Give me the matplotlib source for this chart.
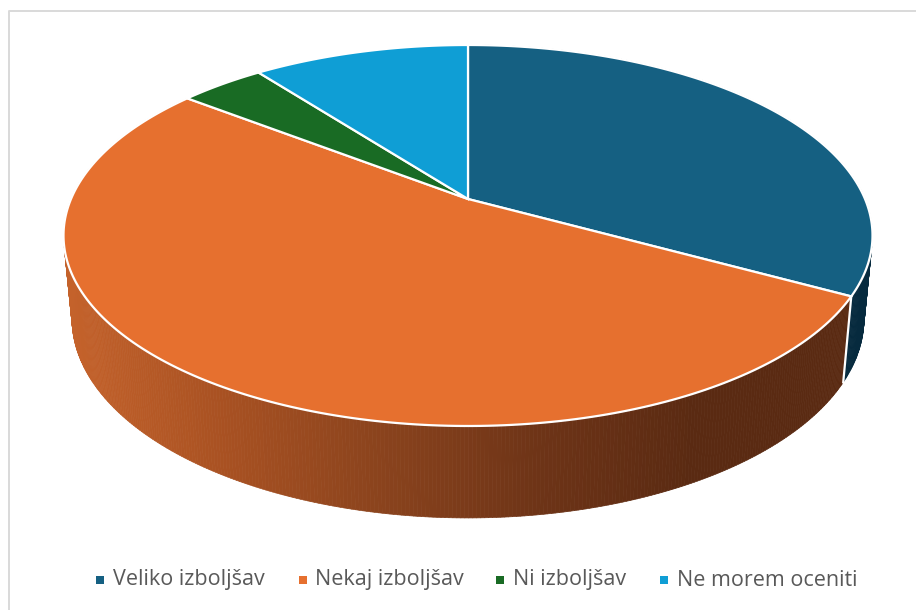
import numpy as np
import matplotlib
matplotlib.use('Agg')
import matplotlib.pyplot as plt
from matplotlib.collections import PolyCollection
from matplotlib.colors import LinearSegmentedColormap
from matplotlib.patches import Polygon, Rectangle

labels = ['Veliko izboljšav', 'Nekaj izboljšav', 'Ni izboljšav', 'Ne morem oceniti']
values = [33.0, 52.5, 4.1, 10.4]
colors = ['#156082', '#E6702F', '#196B24', '#0F9ED5']

# pie geometry in pixels, the top face is a circle seen in perspective
cx, cy = 468, 199
a, b, k = 397, 183.5, 0.1916
# lower rim of the side wall
sx, sy, drop = 0.979, 1.046, 81.5


def top_rim(t):
    w = 1 + k * np.cos(t)
    return cx + a * np.sin(t) / w, cy - b * np.cos(t) / w


def low_rim(t):
    x, y = top_rim(t)
    return cx + sx * (x - cx), cy + sy * (y - cy) + drop


def side_quads(t):
    x1, y1 = top_rim(t)
    x2, y2 = low_rim(t)
    quads = []
    for i in range(len(t) - 1):
        quads.append([(x1[i], y1[i]), (x1[i + 1], y1[i + 1]), (x2[i + 1], y2[i + 1]), (x2[i], y2[i])])
    return quads


fig = plt.figure(figsize=(9.16, 6.10), dpi=100)
ax = fig.add_axes([0, 0, 1, 1])
ax.set_xlim(0, 916)
ax.set_ylim(610, 0)
ax.axis('off')

# chart frame
ax.plot([9, 9, 916], [610, 11, 11], color='#d9d9d9', lw=1.4)

edges = np.cumsum([0] + values) / sum(values) * 2 * np.pi

# dark side of the first slice
t = np.linspace(edges[0], edges[1], 200)
ax.add_collection(PolyCollection(side_quads(t), facecolors='#062A3E', edgecolors='#062A3E', linewidths=0.5, zorder=2))

# shaded side of the second slice, dark on the right
shade = LinearSegmentedColormap.from_list('shade', ['#C4622B', '#A85122', '#8A431D', '#6E3417', '#5A2A12', '#5A2A12'])
t = np.linspace(edges[1], edges[2], 400)
quads = side_quads(t)
mid = np.array([np.mean([p[0] for p in q]) for q in quads])
side_cols = shade(np.clip((mid - 70) / 780, 0, 1))
ax.add_collection(PolyCollection(quads, facecolors=side_cols, edgecolors=side_cols, linewidths=0.5, zorder=2))

# white seam between the two side walls
x1, y1 = top_rim(edges[1])
x2, y2 = low_rim(edges[1])
ax.plot([x1, x2], [y1, y2], color='white', lw=1.6, zorder=3)

# top face
for i, col in enumerate(colors):
    t = np.linspace(edges[i], edges[i + 1], 200)
    x, y = top_rim(t)
    pts = np.column_stack([np.r_[cx, x], np.r_[cy, y]])
    ax.add_patch(Polygon(pts, closed=True, facecolor=col, edgecolor='white', lw=1.6, joinstyle='miter', zorder=4))

# legend
mark_x = [96, 299, 496, 660]
text_x = [113, 315, 513, 677]
for lab, col, mx, tx in zip(labels, colors, mark_x, text_x):
    ax.add_patch(Rectangle((mx, 576), 8, 8, facecolor=col, edgecolor='none'))
    ax.text(tx, 580, lab, color='#595959', fontsize=15.5, family='Open Sans', va='center', ha='left')

fig.savefig('out.png', dpi=100)
